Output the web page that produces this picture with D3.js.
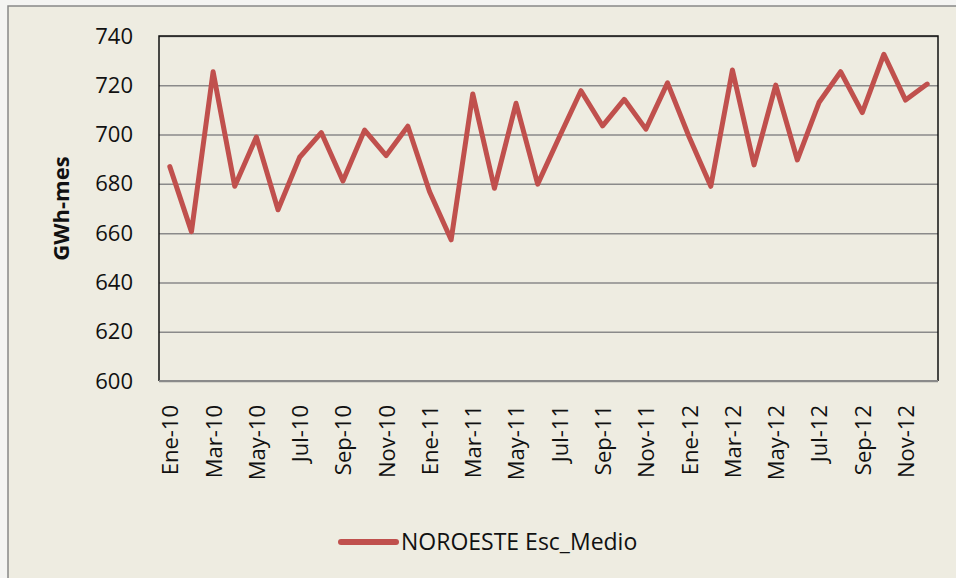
<!DOCTYPE html>
<html>
<head>
<meta charset="utf-8">
<script src="https://cdn.jsdelivr.net/npm/d3@7"></script>
<style>
  body { margin: 0; background: #f4f4f2; }
  svg { display: block; font-family: "Open Sans", sans-serif; }
</style>
</head>
<body>
<svg width="956" height="578"></svg>
<script>
const MONTHS = [
  "Ene-10", "Feb-10", "Mar-10", "Abr-10", "May-10", "Jun-10",
  "Jul-10", "Ago-10", "Sep-10", "Oct-10", "Nov-10", "Dic-10",
  "Ene-11", "Feb-11", "Mar-11", "Abr-11", "May-11", "Jun-11",
  "Jul-11", "Ago-11", "Sep-11", "Oct-11", "Nov-11", "Dic-11",
  "Ene-12", "Feb-12", "Mar-12", "Abr-12", "May-12", "Jun-12",
  "Jul-12", "Ago-12", "Sep-12", "Oct-12", "Nov-12", "Dic-12",
];

const NOROESTE = [
  687, 660.6, 725.5, 679, 699, 669.5, 690.8, 700.8, 681.2, 701.8, 691.5, 703.4,
  676.9, 657.3, 716.5, 678.2, 712.7, 679.9, 699, 717.8, 703.5, 714.3, 702.2, 721,
  699, 679, 726.2, 687.7, 720.1, 689.7, 713, 725.5, 708.9, 732.6, 714, 720.5,
];

const SERIES_NAME = "NOROESTE Esc_Medio";
const Y_TICKS = [600, 620, 640, 660, 680, 700, 720, 740];
const X_LABELS = MONTHS.filter((d, i) => i % 2 === 0);

const PLOT = { left: 159, top: 36, right: 938, bottom: 381 };
const LINE_COLOR = "#c0504d";

const svg = d3.select("svg");

// chart frame
svg
  .append("rect")
  .attr("x", 8)
  .attr("y", 6)
  .attr("width", 960)
  .attr("height", 590)
  .attr("fill", "#eeece1")
  .attr("stroke", "#888")
  .attr("stroke-width", 1.5);

const x = d3
  .scalePoint()
  .domain(MONTHS)
  .range([PLOT.left, PLOT.right])
  .padding(0.5);

const y = d3
  .scaleLinear()
  .domain([600, 740])
  .range([PLOT.bottom, PLOT.top]);

// gridlines + y labels
const yAxis = svg
  .append("g")
  .attr("transform", `translate(${PLOT.left},0)`)
  .call(
    d3
      .axisLeft(y)
      .tickValues(Y_TICKS)
      .tickSize(-(PLOT.right - PLOT.left))
      .tickPadding(26)
  );
yAxis.select(".domain").remove();
yAxis
  .selectAll(".tick line")
  .attr("stroke", "#8a8a8a")
  .attr("stroke-width", 1.5);
yAxis
  .selectAll(".tick text")
  .attr("font-size", 22)
  .attr("fill", "#111")
  .attr("font-family", "Open Sans");

// plot border
svg
  .append("path")
  .attr(
    "d",
    `M${PLOT.left},${PLOT.bottom}V${PLOT.top}H${PLOT.right}V${PLOT.bottom}`
  )
  .attr("fill", "none")
  .attr("stroke", "#111")
  .attr("stroke-width", 1.5);

// x axis
const xAxis = svg
  .append("g")
  .attr("transform", `translate(0,${PLOT.bottom})`)
  .call(d3.axisBottom(x).tickValues(X_LABELS).tickSize(0));
xAxis
  .select(".domain")
  .attr("d", `M${PLOT.left},0H${PLOT.right}`)
  .attr("stroke", "#8a8a8a")
  .attr("stroke-width", 2);
xAxis
  .selectAll(".tick text")
  .attr("font-size", 22)
  .attr("fill", "#111")
  .attr("font-family", "Open Sans")
  .attr("text-anchor", "end")
  .attr("transform", "rotate(-90)")
  .attr("x", -24)
  .attr("y", 0)
  .attr("dy", "0.36em");

// y title
svg
  .append("text")
  .attr("transform", `translate(69,${(PLOT.top + PLOT.bottom) / 2}) rotate(-90)`)
  .attr("text-anchor", "middle")
  .attr("font-size", 22)
  .attr("font-weight", "bold")
  .attr("fill", "#111")
  .text("GWh-mes");

// series line
svg
  .append("path")
  .datum(NOROESTE)
  .attr("fill", "none")
  .attr("stroke", LINE_COLOR)
  .attr("stroke-width", 5)
  .attr("stroke-linejoin", "round")
  .attr("stroke-linecap", "round")
  .attr(
    "d",
    d3
      .line()
      .x((d, i) => x(MONTHS[i]))
      .y((d) => y(d))
  );

// legend
const legend = svg.append("g").attr("transform", "translate(341,542)");
legend
  .append("line")
  .attr("x1", 0)
  .attr("x2", 55)
  .attr("stroke", LINE_COLOR)
  .attr("stroke-width", 6)
  .attr("stroke-linecap", "round");
legend
  .append("text")
  .attr("x", 60)
  .attr("y", 8)
  .attr("font-size", 23)
  .attr("fill", "#111")
  .text(SERIES_NAME);
</script>
</body>
</html>
